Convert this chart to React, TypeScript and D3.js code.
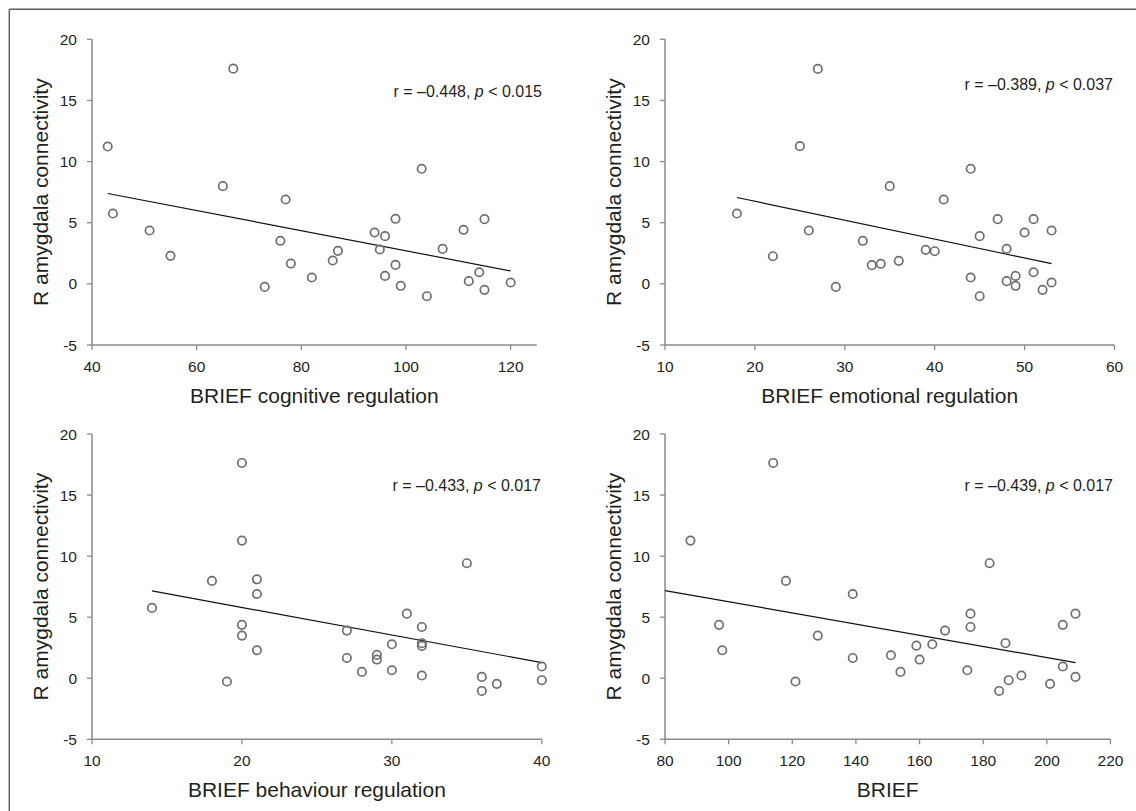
import React from "react";
import * as d3 from "d3";

// ---- data ----
const cogX = [43, 44, 51, 55, 65, 67, 73, 76, 77, 78, 82, 86, 87, 94, 95, 96, 96, 98, 98, 99, 103, 104, 107, 111, 112, 114, 115, 115, 120];
const cogY = [11.23, 5.75, 4.36, 2.29, 7.99, 17.6, -0.25, 3.52, 6.9, 1.66, 0.52, 1.91, 2.7, 4.2, 2.81, 3.9, 0.65, 5.32, 1.55, -0.16, 9.41, -1.01, 2.86, 4.42, 0.22, 0.95, 5.29, -0.49, 0.11];

const emoX = [18, 22, 25, 26, 27, 29, 32, 33, 34, 35, 36, 39, 40, 41, 44, 44, 45, 45, 47, 48, 48, 49, 49, 50, 51, 51, 52, 53, 53];
const emoY = [5.75, 2.26, 11.26, 4.36, 17.58, -0.25, 3.52, 1.53, 1.64, 7.99, 1.88, 2.78, 2.67, 6.9, 9.41, 0.52, 3.9, -1.01, 5.29, 2.86, 0.22, 0.65, -0.16, 4.2, 5.29, 0.95, -0.49, 4.36, 0.11];

const behX = [14, 18, 19, 20, 20, 20, 20, 21, 21, 21, 27, 27, 28, 29, 29, 30, 30, 31, 32, 32, 32, 32, 35, 36, 36, 37, 40, 40];
const behY = [5.76, 7.97, -0.27, 17.63, 11.27, 4.37, 3.49, 8.1, 6.9, 2.29, 3.9, 1.66, 0.52, 1.91, 1.53, 2.78, 0.65, 5.29, 4.2, 2.87, 2.65, 0.22, 9.42, 0.11, -1.04, -0.46, 0.96, -0.16];

const totX = [88, 97, 98, 114, 118, 121, 128, 139, 139, 151, 154, 159, 160, 164, 168, 175, 176, 176, 182, 185, 187, 188, 192, 201, 205, 205, 209, 209];
const totY = [11.27, 4.37, 2.29, 17.63, 7.97, -0.27, 3.49, 6.9, 1.66, 1.88, 0.52, 2.67, 1.53, 2.78, 3.9, 0.65, 5.29, 4.2, 9.42, -1.04, 2.87, -0.16, 0.22, -0.46, 4.37, 0.96, 5.29, 0.11];

// fit line endpoints [x0, y0, x1, y1]
const cogFit = [43, 7.39, 120, 1.06];
const emoFit = [18, 7.06, 53, 1.66];
const behFit = [14, 7.15, 40, 1.28];
const totFit = [80, 7.18, 209, 1.28];

const yTicks = [-5, 0, 5, 10, 15, 20];
const cogTicks = [40, 60, 80, 100, 120];
const emoTicks = [10, 20, 30, 40, 50, 60];
const behTicks = [10, 20, 30, 40];
const totTicks = [80, 100, 120, 140, 160, 180, 200, 220];

const xTitles = ["BRIEF cognitive regulation", "BRIEF emotional regulation", "BRIEF behaviour regulation", "BRIEF"];
const yTitle = "R amygdala connectivity";
const rValues = ["–0.448", "–0.389", "–0.433", "–0.439"];
const pValues = ["0.015", "0.037", "0.017", "0.017"];

const FONT = "'Liberation Sans', Arial, Helvetica, sans-serif";
const TEXT = "#231f20";
const AXIS = "#8a8a8a";
const PT = "#6e6e6e";

type PanelCfg = {
  xs: number[]; ys: number[]; fit: number[]; ticks: number[];
  xDomain: [number, number]; xRange: [number, number]; yRange: [number, number];
  title: string; r: string; p: string; annX: number; annY: number;
};

const panels: PanelCfg[] = [
  { xs: cogX, ys: cogY, fit: cogFit, ticks: cogTicks, xDomain: [40, 125], xRange: [92, 536.8], yRange: [345, 39.3], title: xTitles[0], r: rValues[0], p: pValues[0], annX: 542, annY: 96.7 },
  { xs: emoX, ys: emoY, fit: emoFit, ticks: emoTicks, xDomain: [10, 60], xRange: [665, 1114.5], yRange: [345, 39.3], title: xTitles[1], r: rValues[1], p: pValues[1], annX: 1113, annY: 89.5 },
  { xs: behX, ys: behY, fit: behFit, ticks: behTicks, xDomain: [10, 40], xRange: [92, 541.8], yRange: [739.3, 434], title: xTitles[2], r: rValues[2], p: pValues[2], annX: 541, annY: 490.7 },
  { xs: totX, ys: totY, fit: totFit, ticks: totTicks, xDomain: [80, 220], xRange: [665, 1110.5], yRange: [739.3, 434], title: xTitles[3], r: rValues[3], p: pValues[3], annX: 1113, annY: 490.7 },
];

function Panel({ cfg }: { cfg: PanelCfg }) {
  const x = d3.scaleLinear().domain(cfg.xDomain).range(cfg.xRange);
  const y = d3.scaleLinear().domain([-5, 20]).range(cfg.yRange);
  const x0 = cfg.xRange[0];
  const yb = cfg.yRange[0];
  const line = d3.line<[number, number]>().x((d) => x(d[0])).y((d) => y(d[1]));
  const fitPts: [number, number][] = [[cfg.fit[0], cfg.fit[1]], [cfg.fit[2], cfg.fit[3]]];
  const midX = (cfg.xRange[0] + cfg.xRange[1]) / 2;
  const midY = (cfg.yRange[0] + cfg.yRange[1]) / 2;
  return (
    <g>
      {/* y axis */}
      <line x1={x0} x2={x0} y1={y(-5)} y2={y(20)} stroke={AXIS} strokeWidth={1.5} />
      {yTicks.map((t) => (
        <g key={"y" + t}>
          <line x1={x0 - 5} x2={x0} y1={y(t)} y2={y(t)} stroke={AXIS} strokeWidth={1.3} />
          <text x={x0 - 15} y={y(t)} dy="0.36em" textAnchor="end" fontSize={15.5} fill={TEXT} fontFamily={FONT}>{t}</text>
        </g>
      ))}
      {/* x axis */}
      <line x1={x0} x2={cfg.xRange[1]} y1={yb} y2={yb} stroke={AXIS} strokeWidth={1.5} />
      {cfg.ticks.map((t) => (
        <g key={"x" + t}>
          <line x1={x(t)} x2={x(t)} y1={yb} y2={yb + 5} stroke={AXIS} strokeWidth={1.3} />
          <text x={x(t)} y={yb + 27} textAnchor="middle" fontSize={15.5} fill={TEXT} fontFamily={FONT}>{t}</text>
        </g>
      ))}
      {/* fit line */}
      <path d={line(fitPts) || ""} stroke="#111" strokeWidth={1.2} fill="none" />
      {/* points */}
      {cfg.xs.map((v, i) => (
        <circle key={i} cx={x(v)} cy={y(cfg.ys[i])} r={4.2} fill="none" stroke={PT} strokeWidth={1.7} />
      ))}
      {/* annotation */}
      <text x={cfg.annX} y={cfg.annY} textAnchor="end" fontSize={16} fill={TEXT} fontFamily={FONT}>
        {"r = " + cfg.r + ", "}<tspan fontStyle="italic">p</tspan>{" < " + cfg.p}
      </text>
      {/* titles */}
      <text x={midX} y={yb + 58} textAnchor="middle" fontSize={21} fill={TEXT} fontFamily={FONT}>{cfg.title}</text>
      <text transform={`translate(${x0 - 44},${midY}) rotate(-90)`} textAnchor="middle" fontSize={21} fill={TEXT} fontFamily={FONT}>{yTitle}</text>
    </g>
  );
}

export default function App() {
  return (
    <svg width={1136} height={811} style={{ position: "absolute", left: 0, top: 0, background: "#fff" }}>
      <rect x={0} y={0} width={1136} height={811} fill="#fff" />
      <line x1={9.3} x2={1136} y1={9.3} y2={9.3} stroke="#5a5a5a" strokeWidth={1.4} />
      <line x1={9.3} x2={9.3} y1={9.3} y2={811} stroke="#5a5a5a" strokeWidth={1.4} />
      {panels.map((p, i) => (
        <Panel key={i} cfg={p} />
      ))}
    </svg>
  );
}
